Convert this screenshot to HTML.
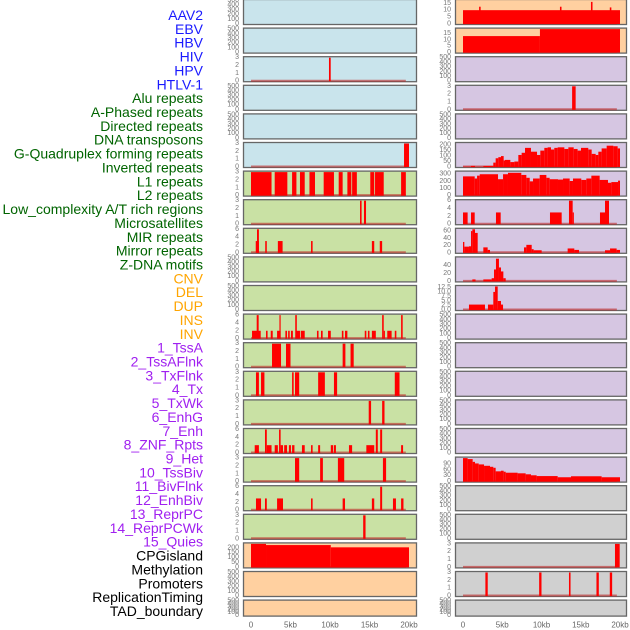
<!DOCTYPE html>
<html><head><meta charset="utf-8"><style>
html,body{margin:0;padding:0;background:#fff;}
svg{display:block;font-family:"Liberation Sans",sans-serif;}
</style></head><body>
<svg id="chart" width="630" height="630" viewBox="0 0 630 630" xmlns="http://www.w3.org/2000/svg"></svg>
<script>
// ---- labels ----
const labelNames = ["AAV2","EBV","HBV","HIV","HPV","HTLV-1","Alu repeats","A-Phased repeats","Directed repeats","DNA transposons","G-Quadruplex forming repeats","Inverted repeats","L1 repeats","L2 repeats","Low_complexity A/T rich regions","Microsatellites","MIR repeats","Mirror repeats","Z-DNA motifs","CNV","DEL","DUP","INS","INV","1_TssA","2_TssAFlnk","3_TxFlnk","4_Tx","5_TxWk","6_EnhG","7_Enh","8_ZNF_Rpts","9_Het","10_TssBiv","11_BivFlnk","12_EnhBiv","13_ReprPC","14_ReprPCWk","15_Quies","CPGisland","Methylation","Promoters","ReplicationTiming","TAD_boundary"];
const labelGroups = [6,13,5,15,5];
const groupColors = ["#1a1aff","#006400","#ffa500","#a020f0","#000000"];

// ---- tick sets ----
const ticksEmpty = [0,100,200,300,400,500];
const ticks3 = [0,1,2,3];
const ticks6 = [0,2,4,6];
const ticksCpg = [0,50,100,150,200];
const ticks15 = [0,5,10,15];
const ticksGq = [0,50,100,150,200];
const ticks300 = [0,100,200,300];
const ticks60 = [0,20,40,60];
const ticks40 = [0,20,40];
const ticks125 = [0,2.5,5,7.5,10,12.5];
const ticks90 = [0,30,60,90];
const xTickKb = [0,5,10,15,20];
const xTickLabels = ["0","5kb","10kb","15kb","20kb"];

// ---- series: [startKb, endKb, value] ----
const hivBars = [[9.87,10.09,3]];
const gquadLeftBars = [[19.37,20.0,3]];
const l1LeftBars = [[0,2.6,3],[3.0,4.6,3],[5.2,5.75,3],[6.2,6.8,3],[7.4,8.1,3],[9.2,10.5,3],[11.1,11.6,3],[12.2,12.7,3],[12.8,13.4,3],[15.1,15.6,3],[15.7,16.8,3],[19.0,19.6,3]];
const l2LeftBars = [[13.8,14.0,3],[14.3,14.56,3]];
const lowCxLeftBars = [[0.6,1.0,3],[0.76,1.0,6],[1.8,2.0,3],[3.4,4.0,3],[7.6,7.8,3],[15.3,15.6,3],[16.3,16.6,3]];
const insBars = [[0.13,1.23,2],[0.72,0.97,6],[1.9,2.1,2],[2.5,2.75,2],[3.3,3.75,2],[3.6,3.75,6],[4.35,4.56,2],[4.7,4.9,2],[5.06,5.3,2],[5.6,5.8,6],[5.75,6.2,2],[6.3,6.8,2],[8.35,8.55,2],[8.86,9.07,2],[9.75,10.1,2],[11.5,11.7,2],[11.9,12.2,2],[14.4,14.6,2],[14.8,15.0,2],[15.3,15.8,2],[16.6,16.8,6],[16.8,16.85,2],[17.25,17.8,2],[18.2,18.4,2],[19.0,19.2,6]];
const tssABars = [[2.66,3.8,3],[4.43,5.0,3],[11.6,11.95,3],[12.6,13.0,3]];
const tssAFlnkBars = [[0.63,1.0,3],[1.27,1.7,3],[5.2,5.4,3],[5.57,6.1,3],[8.5,9.35,3],[10.5,10.9,3],[18.2,18.8,3]];
const txFlnkBars = [[14.9,15.2,3],[16.6,16.9,3]];
const txBars = [[0.47,1.0,2],[1.77,2.0,6],[2.0,2.6,2],[3.0,3.4,2],[3.55,3.75,6],[3.75,4.05,2],[4.2,4.56,2],[4.8,5.06,2],[5.2,5.5,2],[6.45,6.8,2],[7.6,7.8,2],[8.5,8.75,2],[10.1,10.4,2],[10.5,10.75,2],[12.4,12.8,2],[14.6,15.6,2],[15.8,16.05,6],[16.35,16.6,6],[19.0,19.25,2]];
const txWkBars = [[5.57,6.1,3],[8.75,9.1,3],[11.0,11.8,3],[16.7,17.1,3]];
const enhGBars = [[0.63,1.27,3],[1.77,2.0,3],[3.3,4.05,3],[7.6,7.8,3],[11.6,11.9,3],[15.3,15.6,3],[16.35,16.6,6],[17.97,18.35,3],[19.0,19.3,3]];
const enhBars = [[14.2,14.5,3]];
const cpgBars = [[0,1.9,240],[1.9,10.1,228],[10.1,20.0,205]];
const aavBars = [[0,20,10],[2.05,2.25,12.5],[12.35,12.55,12.5],[16.3,16.5,16],[18.7,18.9,12]];
const ebvBars = [[0,9.8,13],[9.8,20,18.5]];
const aluRightBars = [[13.9,14.35,3]];
const gquadRightBars = [[0,1.02,3],[1.02,1.53,10],[1.53,2.59,2],[2.59,3.86,10],[3.86,4.16,40],[4.16,4.5,80],[4.5,4.84,90],[4.84,5.18,100],[5.18,5.35,60],[5.35,6.03,65],[6.03,6.54,45],[6.54,7.05,50],[7.05,7.47,110],[7.47,7.9,130],[7.9,8.66,175],[8.66,9.43,140],[9.43,9.85,110],[9.85,10.36,150],[10.36,10.78,175],[10.78,11.21,180],[11.21,11.63,160],[11.63,12.06,175],[12.06,12.91,180],[12.91,13.42,165],[13.42,14.1,180],[14.1,14.6,165],[14.6,15.03,150],[15.03,15.96,175],[15.96,16.39,160],[16.39,16.9,120],[16.9,17.24,110],[17.24,17.66,140],[17.66,18.3,170],[18.3,19.15,195],[19.15,19.7,190],[19.7,20.0,170]];
const invRightBars = [[0,1.49,270],[1.49,1.79,240],[1.79,2.13,280],[2.13,4.46,300],[4.46,5.1,230],[5.1,5.73,300],[5.73,7.43,320],[7.43,8.07,290],[8.07,8.5,250],[8.5,8.92,200],[8.92,9.77,240],[9.77,10.62,290],[10.62,11.04,250],[11.04,12.1,230],[12.1,12.74,225],[12.74,13.59,240],[13.59,14.01,205],[14.01,15.07,240],[15.07,15.71,220],[15.71,16.35,240],[16.35,17.41,280],[17.41,18.47,220],[18.47,18.9,180],[18.9,19.75,190],[19.75,20.0,210]];
const l1RightBars = [[0,0.59,3],[1.02,1.49,3],[4.2,4.8,3],[11.08,12.57,3],[13.5,13.97,6],[13.97,14.1,3],[17.45,18.09,3],[18.09,18.6,6]];
const l2RightBars = [[0,0.17,30],[0.17,0.76,17],[0.76,1.02,18],[1.02,1.19,60],[1.19,1.53,65],[1.53,1.87,55],[2.59,3.14,15],[3.14,3.44,8],[7.77,8.07,15],[8.07,8.75,22],[8.75,9.0,10],[9.0,10.02,7],[13.33,14.18,12],[14.18,14.78,8],[18.09,18.73,7],[18.73,19.57,12],[19.57,20.0,8]];
const lowCxRightBars = [[1.19,1.6,5],[2.59,3.65,5],[3.65,3.95,8],[3.95,4.2,30],[4.2,4.58,57],[4.58,4.84,35],[4.84,5.14,25],[5.14,5.44,8]];
const microRightBars = [[0.76,2.8,3],[3.18,3.86,3],[3.86,4.08,10],[4.08,4.42,13],[4.42,4.84,5],[4.84,5.1,3]];
const hetRightBars = [[0,0.59,119],[0.59,1.23,114],[1.23,1.53,100],[1.53,2.0,92],[2.0,2.68,87],[2.68,3.44,80],[3.44,3.86,75],[3.86,4.16,70],[4.16,4.84,52],[4.84,5.18,55],[5.18,5.44,50],[5.44,6.96,45],[6.96,7.98,42],[7.98,8.66,37],[8.66,9.38,32],[9.38,12.06,28],[12.06,13.76,22],[13.76,17.66,27],[17.66,20.0,22]];
const cpgRightBars = [[19.36,19.96,3]];
const promRightBars = [[2.85,3.15,3],[9.7,10.0,3],[13.5,13.7,3],[17.0,17.3,3],[18.7,19.0,3]];

// ---- panel specs: [row, column, colorKey, bars, ticks, ymax, tickLabels?] ----
const leftPanels = [
 [0,"blue",null,ticksEmpty,500],[1,"blue",null,ticksEmpty,500],[2,"blue",hivBars,ticks3,3],[3,"blue",null,ticksEmpty,500],[4,"blue",null,ticksEmpty,500],[5,"blue",gquadLeftBars,ticks3,3],
 [6,"green",l1LeftBars,ticks3,3],[7,"green",l2LeftBars,ticks3,3],[8,"green",lowCxLeftBars,ticks6,6],[9,"green",null,ticksEmpty,500],[10,"green",null,ticksEmpty,500],[11,"green",insBars,ticks6,6],
 [12,"green",tssABars,ticks3,3],[13,"green",tssAFlnkBars,ticks3,3],[14,"green",txFlnkBars,ticks3,3],[15,"green",txBars,ticks6,6],[16,"green",txWkBars,ticks3,3],[17,"green",enhGBars,ticks6,6],[18,"green",enhBars,ticks3,3],
 [19,"peach",cpgBars,ticksCpg,240],[20,"peach",null,ticksEmpty,500],[21,"peach",null,ticksEmpty,500]
];
const rightPanels = [
 [0,"peach",aavBars,ticks15,17],[1,"peach",ebvBars,ticks15,18.5],[2,"lav",null,ticksEmpty,500],[3,"lav",aluRightBars,ticks3,3],[4,"lav",null,ticksEmpty,500],[5,"lav",gquadRightBars,ticksGq,215],
 [6,"lav",invRightBars,ticks300,330],[7,"lav",l1RightBars,ticks6,6],[8,"lav",l2RightBars,ticks60,65],[9,"lav",lowCxRightBars,ticks40,59],[10,"lav",microRightBars,ticks125,13],
 [11,"lav",null,ticksEmpty,500],[12,"lav",null,ticksEmpty,500],[13,"lav",null,ticksEmpty,500],[14,"lav",null,ticksEmpty,500],[15,"lav",null,ticksEmpty,500],[16,"lav",hetRightBars,ticks90,119],
 [17,"grey",null,ticksEmpty,500],[18,"grey",null,ticksEmpty,500],[19,"grey",cpgRightBars,ticks3,3],[20,"grey",promRightBars,ticks3,3],[21,"grey",null,ticksEmpty,500]
];

const NS = "http://www.w3.org/2000/svg";
const svg = document.getElementById("chart");
const bg = {blue:"#c9e4ec",green:"#c9e1a4",peach:"#ffd0a0",lav:"#d6c6e2",grey:"#d0d0d0"};
function mk(tag, attrs, parent){const e=document.createElementNS(NS,tag);for(const k in attrs)e.setAttribute(k,attrs[k]);(parent||svg).appendChild(e);return e;}

// labels
let li=0;
labelGroups.forEach((n,g)=>{for(let j=0;j<n;j++){
  const t=mk("text",{x:203,y:15+li*13.86,"text-anchor":"end","dominant-baseline":"central","font-size":"14",fill:groupColors[g]});
  t.textContent=labelNames[li];
  
  
  li++;
}});

const cols = {left:{px:243.5,pw:173,x0:251,x20:409,tx:239},right:{px:455.5,pw:171,x0:463,x20:620,tx:451}};
function rowTop(r){return r*28.6-0.5;}
function rowH(r){return r===21?16:25;}

function drawPanel(spec, colKey){
  const [row,color,bars,ticks,ymax]=spec;const c=cols[colKey];
  const top=rowTop(row),h=rowH(row);
  const g=mk("g",{});
  
  
  const r=mk("rect",{x:c.px,y:top,width:c.pw,height:h,fill:bg[color],stroke:"#666","stroke-width":1.3},g);
  
  
  const xS=kb=>c.x0+(c.x20-c.x0)*kb/20;
  const yS=v=>top+h-0.5-(h-1.5)*v/ymax;
  ticks.forEach((tv,i)=>{
    const lab = ticks===ticks125 ? tv.toFixed(1) : String(tv);
    const t=mk("text",{x:c.tx,y:yS(tv),"text-anchor":"end","dominant-baseline":"central","font-size":"7",fill:"#777"},g);
    t.textContent=lab;
    
    
  });
  if(bars){
    const base=mk("line",{x1:xS(0),x2:xS(19.6),y1:yS(0)-0.5,y2:yS(0)-0.5,stroke:"rgba(190,40,40,0.6)","stroke-width":2},g);
    
    
    bars.forEach(b=>{
      const x1=xS(b[0]),x2=xS(b[1]),y=yS(b[2]);
      const br=mk("rect",{x:x1,y:y,width:Math.max(1.2,x2-x1),height:yS(0)-y,fill:"#ff0000"},g);
      
      
    });
  }
}
leftPanels.forEach(p=>drawPanel(p,"left"));
rightPanels.forEach(p=>drawPanel(p,"right"));

// x axes
["left","right"].forEach(k=>{const c=cols[k];
  xTickKb.forEach((kb,i)=>{
    const t=mk("text",{x:c.x0+(c.x20-c.x0)*kb/20,y:625,"text-anchor":"middle","dominant-baseline":"central","font-size":"8",fill:"#666"});
    t.textContent=xTickLabels[i];
    
    
  });
});
</script>
</body></html>
